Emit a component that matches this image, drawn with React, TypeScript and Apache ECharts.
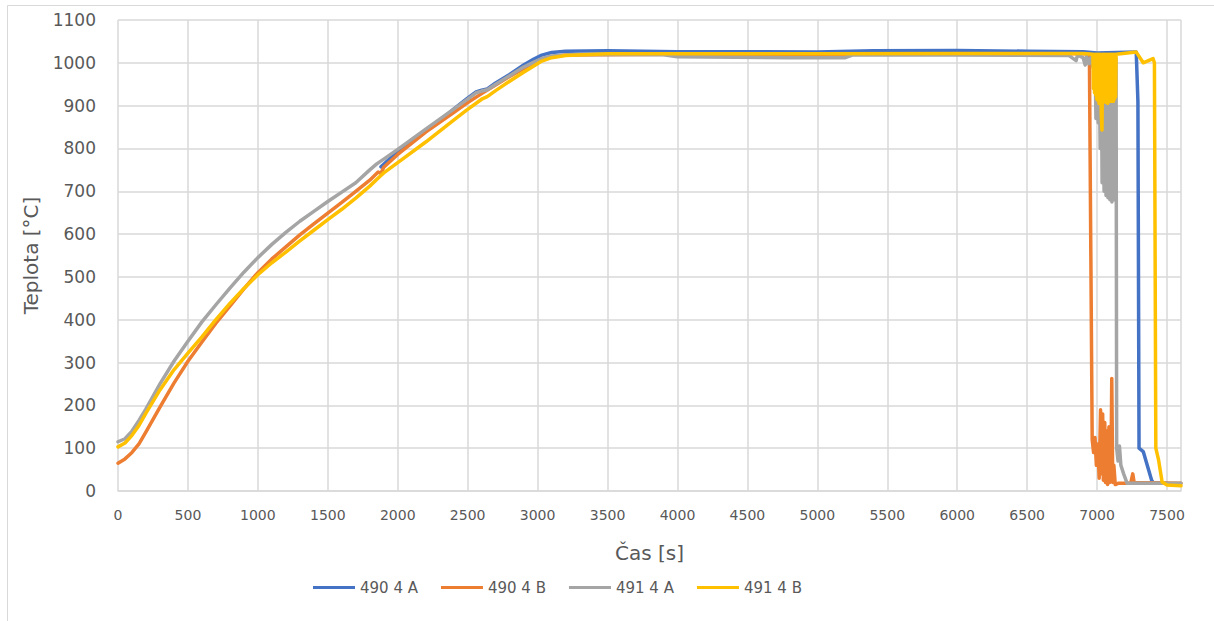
import React, { useEffect, useRef } from "react";
import * as echarts from "echarts";

const seriesNames = ["490 4 A", "490 4 B", "491 4 A", "491 4 B"];
const seriesColors = ["#4472C4", "#ED7D31", "#A5A5A5", "#FFC000"];

const s490A: [number, number][] = [
  [1880, 757], [1990, 790], [2100, 816], [2200, 840], [2300, 865], [2400, 892], [2490, 915],
  [2560, 932], [2600, 936], [2640, 939], [2700, 953], [2800, 973], [2900, 995], [2970, 1008],
  [3030, 1018], [3100, 1024], [3200, 1027], [3500, 1028], [4000, 1026], [4500, 1026], [5000, 1025],
  [5400, 1028], [6000, 1029], [6500, 1027], [6900, 1026], [7000, 1023], [7280, 1025], [7292, 910],
  [7300, 100], [7330, 92], [7390, 25], [7400, 20], [7500, 18],
];

const s490B: [number, number][] = [
  [0, 65], [50, 75], [100, 90], [150, 110], [200, 138], [300, 196], [400, 252], [500, 303],
  [600, 348], [700, 392], [800, 432], [900, 472], [1000, 510], [1100, 542], [1200, 570],
  [1300, 598], [1400, 624], [1500, 649], [1600, 674], [1700, 700], [1800, 726], [1860, 745],
  [1880, 742], [1900, 756], [2000, 786], [2200, 838], [2400, 884], [2490, 905], [2600, 928],
  [2700, 948], [2800, 968], [2900, 986], [2970, 997], [3030, 1008], [3100, 1014], [3200, 1018],
  [4000, 1020], [5000, 1020], [6000, 1021], [6900, 1021], [6945, 1020], [6965, 120],
  [6975, 90], [6985, 125], [6995, 60], [7005, 110], [7015, 30], [7025, 190], [7030, 40], [7040, 180],
  [7045, 25], [7055, 160], [7060, 20], [7070, 140], [7075, 15], [7085, 150], [7090, 20], [7100, 80],
  [7105, 263], [7112, 20], [7120, 60], [7130, 15], [7150, 18], [7240, 18], [7255, 40], [7265, 20],
  [7600, 18],
];

const s491A: [number, number][] = [
  [0, 115], [50, 122], [100, 140], [150, 165], [200, 192], [300, 250], [400, 303], [500, 350],
  [600, 395], [700, 435], [800, 474], [900, 511], [1000, 545], [1100, 576], [1200, 604],
  [1300, 630], [1400, 653], [1500, 676], [1600, 698], [1700, 720], [1800, 750], [1850, 764],
  [1900, 775], [2000, 798], [2200, 845], [2400, 892], [2490, 913], [2560, 930], [2600, 934],
  [2640, 937], [2700, 950], [2800, 970], [2900, 990], [2970, 1001], [3030, 1010], [3100, 1016],
  [3300, 1020], [3900, 1019], [4000, 1014], [4800, 1012], [5200, 1012], [5250, 1018], [6000, 1018],
  [6800, 1017], [6850, 1005], [6860, 1018], [6900, 1012], [6915, 995], [6925, 1015], [6940, 998],
  [6955, 1012], [6970, 990], [6985, 1015], [6992, 870], [7000, 1010], [7008, 860], [7015, 1015],
  [7022, 800], [7030, 1010], [7036, 720], [7043, 1000], [7050, 700], [7057, 1010], [7064, 690],
  [7071, 1015], [7078, 685], [7085, 1015], [7092, 680], [7099, 1015], [7106, 675], [7113, 1010],
  [7120, 680], [7127, 1010], [7132, 690], [7136, 1010], [7140, 100], [7150, 70], [7160, 105],
  [7170, 60], [7190, 40], [7215, 18], [7600, 18],
];

const s491B: [number, number][] = [
  [0, 103], [50, 112], [100, 130], [150, 153], [200, 182], [300, 236], [400, 283], [500, 322],
  [600, 360], [700, 400], [800, 438], [900, 473], [1000, 505], [1100, 533], [1200, 558],
  [1300, 584], [1400, 609], [1500, 634], [1600, 658], [1700, 684], [1800, 712], [1870, 734],
  [1900, 743], [2000, 767], [2200, 815], [2400, 866], [2490, 889], [2600, 915], [2640, 921],
  [2700, 935], [2800, 957], [2900, 978], [2970, 992], [3030, 1004], [3100, 1012], [3200, 1017],
  [3500, 1021], [4000, 1021], [5000, 1021], [6000, 1022], [6900, 1022], [6970, 1020],
  [6974, 940], [6978, 1020], [6982, 930], [6986, 1020], [6990, 925], [6994, 1020], [6998, 915],
  [7002, 1020], [7006, 912], [7010, 1020], [7014, 905], [7018, 1020], [7022, 908], [7026, 1020],
  [7030, 880], [7035, 843], [7040, 1020], [7044, 910], [7048, 1020], [7052, 912], [7056, 1020],
  [7060, 908], [7064, 1020], [7068, 912], [7072, 1020], [7076, 905], [7080, 1020], [7084, 910],
  [7088, 1020], [7092, 915], [7096, 1020], [7100, 910], [7104, 1020], [7108, 912], [7112, 1020],
  [7116, 910], [7120, 1020], [7124, 915], [7128, 1020], [7132, 920], [7136, 1020], [7140, 1020],
  [7280, 1025], [7330, 1000], [7400, 1010], [7410, 1000], [7420, 100], [7440, 72], [7465, 21],
  [7500, 14], [7600, 12],
];

const allSeries = [s490A, s490B, s491A, s491B];

const xMin = 0;
const xMax = 7600;
const xInterval = 500;
const yMin = 0;
const yMax = 1100;
const yInterval = 100;

const FONT = "DejaVu Sans";

export default function App() {
  const ref = useRef<HTMLDivElement>(null);
  useEffect(() => {
    if (!ref.current) return;
    const chart = echarts.init(ref.current, undefined, { renderer: "svg" });
    chart.setOption({
      animation: false,
      backgroundColor: "#ffffff",
      textStyle: { fontFamily: FONT },
      grid: { left: 118, right: 33, top: 20, bottom: 130, containLabel: false },
      graphic: [
        { type: "line", shape: { x1: 7.5, y1: 5.5, x2: 7.5, y2: 621 }, style: { stroke: "#d9d9d9", lineWidth: 1 } },
        { type: "line", shape: { x1: 7.5, y1: 5.5, x2: 1214, y2: 5.5 }, style: { stroke: "#d9d9d9", lineWidth: 1 } },
      ],
      legend: {
        data: seriesNames,
        left: 308,
        top: 575,
        icon: "rect",
        itemWidth: 42,
        itemHeight: 3,
        itemGap: 23,
        textStyle: { fontFamily: FONT, fontSize: 15, color: "#595959" },
      },
      xAxis: {
        type: "value",
        min: xMin,
        max: xMax,
        interval: xInterval,
        name: "Čas [s]",
        nameLocation: "middle",
        nameGap: 52,
        nameTextStyle: { fontFamily: FONT, fontSize: 20, color: "#595959" },
        axisLine: { show: true, lineStyle: { color: "#d9d9d9", width: 1.5 } },
        axisTick: { show: false },
        axisLabel: {
          showMaxLabel: false,
          fontFamily: FONT,
          fontSize: 14,
          color: "#595959",
          margin: 17,
          formatter: (v: number) => String(v),
        },
        splitLine: { show: true, lineStyle: { color: "#d9d9d9", width: 1.5 } },
      },
      yAxis: {
        type: "value",
        min: yMin,
        max: yMax,
        interval: yInterval,
        name: "Teplota [°C]",
        nameLocation: "middle",
        nameRotate: 90,
        nameGap: 77,
        nameTextStyle: { fontFamily: FONT, fontSize: 20, color: "#595959" },
        axisLine: { show: false },
        axisTick: { show: false },
        axisLabel: {
          fontFamily: FONT,
          fontSize: 17,
          color: "#595959",
          margin: 22,
          formatter: (v: number) => String(v),
        },
        splitLine: { show: true, lineStyle: { color: "#d9d9d9", width: 1.5 } },
      },
      series: allSeries.map((d, i) => ({
        name: seriesNames[i],
        type: "line",
        data: d,
        showSymbol: false,
        symbol: "none",
        smooth: false,
        color: seriesColors[i],
        lineStyle: { color: seriesColors[i], width: 3.5, join: "round", cap: "round" },
      })),
    });
    return () => chart.dispose();
  }, []);
  return (
    <div
      ref={ref}
      style={{ position: "fixed", left: 0, top: 0, width: 1214, height: 621, background: "#fff" }}
    />
  );
}
